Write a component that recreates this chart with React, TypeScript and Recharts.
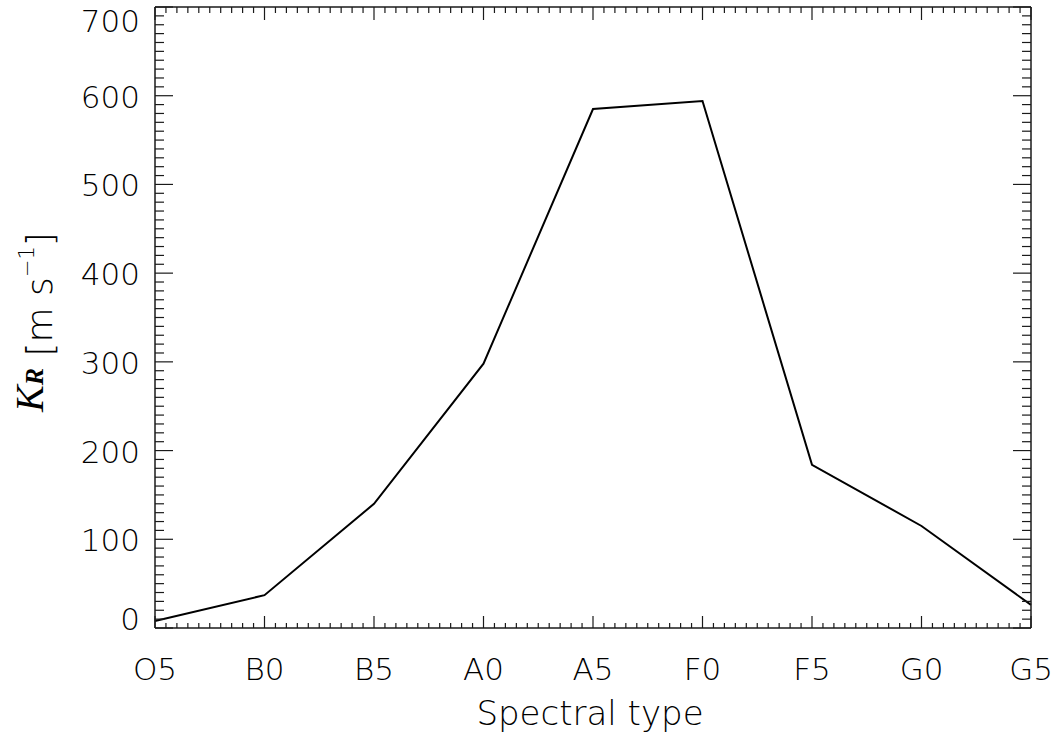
import React from "react";
import { LineChart, Line, XAxis, YAxis } from "recharts";

const spectralTypes = ["O5", "B0", "B5", "A0", "A5", "F0", "F5", "G0", "G5"];
const krValues = [8, 37, 140, 298, 585, 594, 184, 115, 26];
const yMajorTicks = [0, 100, 200, 300, 400, 500, 600, 700];

const data = spectralTypes.map((s, i) => ({ x: i, type: s, kr: krValues[i] }));

// minor ticks: 10 per major interval on both axes
const xTicks: number[] = [];
for (let i = 0; i <= 80; i++) xTicks.push(i / 10);
const yTicks: number[] = [];
for (let i = 0; i <= 70; i++) yTicks.push(i * 10);

const INK = "#1a1a1a";
const TEXT = "#000";
const FONT = "'DejaVu Sans', sans-serif";

const isMajorX = (v: number) => Math.abs(v - Math.round(v)) < 1e-6;
const isMajorY = (v: number) => yMajorTicks.includes(Math.round(v));

function BottomTick(props: any) {
  const { x, y, payload } = props;
  const v = payload.value;
  const major = isMajorX(v);
  return (
    <g>
      <line x1={x} x2={x} y1={y} y2={y - (major ? 12 : 5)} stroke={INK} strokeWidth={1.2} />
      {major && (
        <text x={x} y={y + 52} textAnchor="middle" fontFamily={FONT} fontWeight={200} fontSize={31} fill={TEXT}>
          {spectralTypes[Math.round(v)]}
        </text>
      )}
    </g>
  );
}

function TopTick(props: any) {
  const { x, y, payload } = props;
  const major = isMajorX(payload.value);
  return <line x1={x} x2={x} y1={y} y2={y + (major ? 13 : 6)} stroke={INK} strokeWidth={1.2} />;
}

function LeftTick(props: any) {
  const { x, y, payload } = props;
  const v = Math.round(payload.value);
  const major = isMajorY(v);
  let dy = 12;
  if (v === 700) dy = 25;
  if (v === 0) dy = 2;
  return (
    <g>
      <line x1={x} x2={x + (major ? 18 : 9)} y1={y} y2={y} stroke={INK} strokeWidth={1.2} />
      {major && (
        <text x={x - 15} y={y + dy} textAnchor="end" fontFamily={FONT} fontWeight={200} fontSize={31} fill={TEXT}>
          {v}
        </text>
      )}
    </g>
  );
}

function RightTick(props: any) {
  const { x, y, payload } = props;
  const major = isMajorY(Math.round(payload.value));
  return <line x1={x} x2={x - (major ? 18 : 9)} y1={y} y2={y} stroke={INK} strokeWidth={1.2} />;
}

export default function App() {
  const axisLine = { stroke: INK, strokeWidth: 1.5 };
  return (
    <div style={{ position: "absolute", left: 0, top: 0, width: 1055, height: 736, background: "#fff" }}>
      <LineChart width={1055} height={736} data={data} margin={{ top: 6, right: 23, bottom: 107, left: 154 }}>
        <XAxis
          xAxisId="bottom"
          dataKey="x"
          type="number"
          domain={[0, 8]}
          ticks={xTicks}
          interval={0}
          height={1}
          tickSize={0}
          tickMargin={0}
          tickLine={false}
          axisLine={axisLine}
          tick={<BottomTick />}
        />
        <XAxis
          xAxisId="top"
          orientation="top"
          dataKey="x"
          type="number"
          domain={[0, 8]}
          ticks={xTicks}
          interval={0}
          height={1}
          tickSize={0}
          tickMargin={0}
          tickLine={false}
          axisLine={axisLine}
          tick={<TopTick />}
        />
        <YAxis
          yAxisId="left"
          type="number"
          domain={[0, 700]}
          ticks={yTicks}
          interval={0}
          width={1}
          tickSize={0}
          tickMargin={0}
          tickLine={false}
          axisLine={axisLine}
          tick={<LeftTick />}
        />
        <YAxis
          yAxisId="right"
          orientation="right"
          type="number"
          domain={[0, 700]}
          ticks={yTicks}
          interval={0}
          width={1}
          tickSize={0}
          tickMargin={0}
          tickLine={false}
          axisLine={axisLine}
          tick={<RightTick />}
        />
        <Line
          xAxisId="bottom"
          yAxisId="left"
          type="linear"
          dataKey="kr"
          stroke="#000"
          strokeWidth={2}
          dot={false}
          isAnimationActive={false}
        />
        <Line
          xAxisId="top"
          yAxisId="right"
          type="linear"
          dataKey="kr"
          stroke="none"
          dot={false}
          isAnimationActive={false}
        />
      </LineChart>
      <svg width={1055} height={736} style={{ position: "absolute", left: 0, top: 0, pointerEvents: "none" }}>
        <text x={590} y={725} textAnchor="middle" fontFamily={FONT} fontWeight={200} fontSize={34} fill={TEXT}>
          Spectral type
        </text>
        <text transform="translate(52,322) rotate(-90)" textAnchor="middle" fill={TEXT} fontFamily={FONT} fontWeight={200}>
          <tspan fontFamily="'Liberation Serif', serif" fontStyle="italic" fontSize={40} dy={-9}>
            K
          </tspan>
          <tspan fontFamily="'Liberation Serif', serif" fontStyle="italic" fontWeight="bold" fontSize={26}>
            R
          </tspan>
          <tspan fontSize={36} dy={9}>
            {" [m s"}
          </tspan>
          <tspan fontSize={21} dy={-18}>
            −1
          </tspan>
          <tspan fontSize={36} dy={18}>
            ]
          </tspan>
        </text>
      </svg>
    </div>
  );
}
